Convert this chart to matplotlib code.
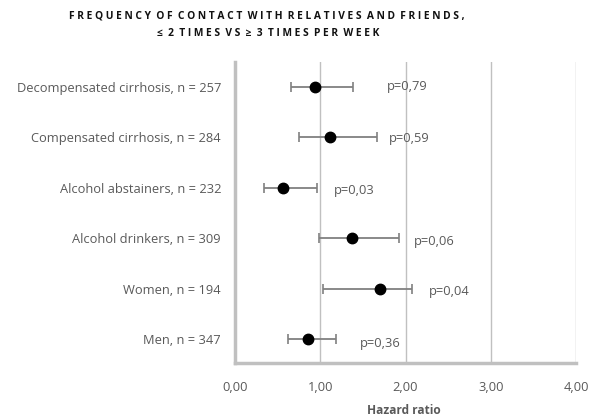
import matplotlib.pyplot as plt
from matplotlib.ticker import FuncFormatter

# hazard ratios with 95% CI per subgroup (top to bottom)
groups = [
    "Decompensated cirrhosis, n = 257",
    "Compensated cirrhosis, n = 284",
    "Alcohol abstainers, n = 232",
    "Alcohol drinkers, n = 309",
    "Women, n = 194",
    "Men, n = 347",
]
hr = [0.94, 1.11, 0.56, 1.37, 1.70, 0.86]
ci_low = [0.66, 0.75, 0.34, 0.99, 1.03, 0.62]
ci_high = [1.39, 1.66, 0.96, 1.92, 2.08, 1.19]
p_values = ["p=0,79", "p=0,59", "p=0,03", "p=0,06", "p=0,04", "p=0,36"]
x_ticks = [0, 1, 2, 3, 4]

# where each p-value label sits (x in hazard-ratio units, y nudge in rows)
p_label_x = [1.785, 1.80, 1.165, 2.10, 2.27, 1.465]
p_label_dy = [0.0, -0.02, -0.06, -0.07, -0.05, -0.09]

FONT = ["Open Sans", "DejaVu Sans"]
GREY_TXT = "#595959"
GREY_LINE = "#c0c0c0"

plt.rcParams["font.family"] = FONT

fig = plt.figure(figsize=(5.96, 4.18), dpi=100)
fig.patch.set_facecolor("white")
ax = fig.add_axes([235 / 596, 55 / 418, 341 / 596, 301 / 418])

ypos = [len(groups) - 1 - i for i in range(len(groups))]
xerr = [[h - lo for h, lo in zip(hr, ci_low)],
        [hi - h for h, hi in zip(hr, ci_high)]]

ax.errorbar(hr, ypos, xerr=xerr, fmt="none", ecolor="#808080",
            elinewidth=1.3, capsize=3.5, capthick=1.2, zorder=3)
ax.plot(hr, ypos, "o", color="black", markersize=7.5, zorder=4)

for y, txt, lx, dy in zip(ypos, p_values, p_label_x, p_label_dy):
    ax.text(lx, y + dy, txt, ha="left", va="center", fontsize=9.3,
            color=GREY_TXT)

ax.set_xlim(0, 4)
ax.set_ylim(-0.47, len(groups) - 1 + 0.495)
ax.set_xticks(x_ticks)
ax.xaxis.set_major_formatter(FuncFormatter(lambda v, _: f"{v:.2f}".replace(".", ",")))
ax.set_yticks(ypos)
ax.set_yticklabels(groups)
ax.tick_params(axis="x", length=0, pad=13, labelsize=9.3, labelcolor=GREY_TXT)
ax.tick_params(axis="y", length=0, pad=10, labelsize=9.3, labelcolor=GREY_TXT)

ax.grid(axis="x", color=GREY_LINE, linewidth=1)
ax.grid(axis="y", visible=False)
ax.set_axisbelow(True)
for side in ["top", "right"]:
    ax.spines[side].set_visible(False)
for side in ["left", "bottom"]:
    ax.spines[side].set_color(GREY_LINE)
    ax.spines[side].set_linewidth(2.5)


def spaced(s):
    # widen letter spacing: one space between letters, two between words
    return "  ".join(" ".join(w) for w in s.split(" "))


fig.text(267 / 596, 1 - 16 / 418,
         spaced("FREQUENCY OF CONTACT WITH RELATIVES AND FRIENDS,"),
         ha="center", va="center", fontsize=7.4, fontweight="bold",
         color="#111111")
fig.text(268 / 596, 1 - 33 / 418, spaced("≤ 2 TIMES VS ≥ 3 TIMES PER WEEK"),
         ha="center", va="center", fontsize=7.4, fontweight="bold",
         color="#111111")
fig.text(404 / 596, 1 - 410 / 418, "Hazard ratio", ha="center", va="center",
         fontsize=8.6, fontweight="bold", color=GREY_TXT)

fig.savefig("out.png", dpi=100, facecolor="white")
